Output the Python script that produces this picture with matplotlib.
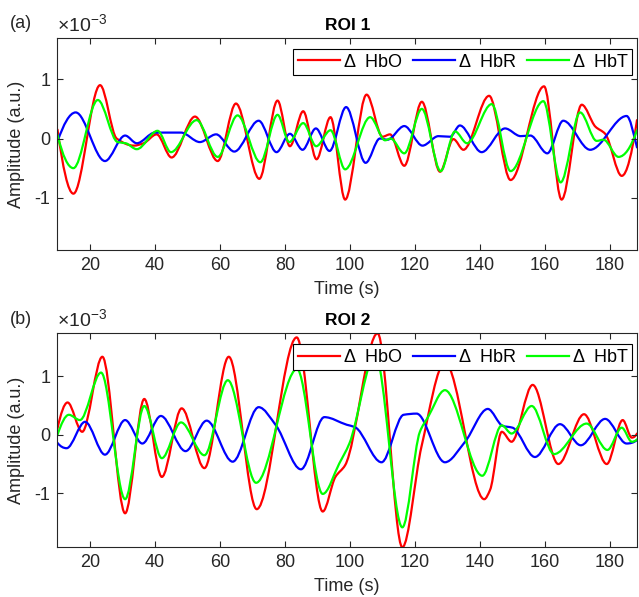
import numpy as np
import matplotlib
matplotlib.use("Agg")
import matplotlib.pyplot as plt
from matplotlib.path import Path
from matplotlib.patches import PathPatch
from matplotlib.lines import Line2D

plt.rcParams['font.family'] = ['Liberation Sans', 'DejaVu Sans']
plt.rcParams['mathtext.fontset'] = 'custom'
plt.rcParams['mathtext.rm'] = 'Liberation Sans'
plt.rcParams['axes.unicode_minus'] = False

SCALE = 1e-3  # all amplitudes below are in units of 1e-3

# ---- ROI 1 (turning points) ----
roi1_hbo_t = [10.0, 14.9, 23.1, 28.2, 33.5, 36.5, 40.5, 45.1, 52.3, 59.3, 64.9, 72.1,
              77.7, 81.5, 85.6, 89.7, 94.0, 98.5, 105.1, 110.0, 112.3, 116.7, 122.1,
              127.7, 131.8, 134.9, 142.8, 149.4, 159.7, 165.1, 171.3, 175.5, 178.5,
              183.6, 188.3]
roi1_hbo_v = [0.15, -0.93, 0.90, 0.0, -0.12, -0.08, 0.07, -0.32, 0.37, -0.38, 0.59, -0.68,
              0.64, -0.13, 0.46, -0.35, 0.36, -1.03, 0.74, 0.03, 0.07, -0.46, 0.62,
              -0.56, -0.01, -0.19, 0.72, -0.70, 0.88, -1.03, 0.57, 0.20, 0.08,
              -0.63, 0.31]

roi1_hbr_t = [10.0, 15.6, 24.6, 30.8, 34.4, 40.0, 48.0, 53.8, 58.8, 64.4, 71.9, 77.4,
              81.5, 85.4, 89.5, 93.7, 98.8, 104.8, 109.2, 111.5, 116.7, 122.3, 127.2,
              130.8, 133.8, 140.5, 147.7, 152.5, 155.5, 160.7, 165.6, 173.9, 185.1,
              188.3]
roi1_hbr_v = [-0.05, 0.44, -0.38, 0.05, -0.08, 0.10, 0.10, -0.06, 0.07, -0.22, 0.30, -0.23,
              0.08, -0.19, 0.17, -0.21, 0.53, -0.41, 0.0, -0.02, 0.21, -0.12, 0.04,
              0.03, 0.22, -0.23, 0.17, 0.04, 0.05, -0.25, 0.30, -0.19, 0.38,
              -0.15]

roi1_hbt_t = [10.0, 14.9, 22.4, 28.5, 31.0, 34.4, 40.8, 44.9, 52.8, 59.3, 65.4, 72.4,
              77.7, 81.3, 85.6, 89.6, 94.0, 98.5, 106.2, 110.8, 112.5, 116.7, 122.1,
              127.9, 132.3, 136.0, 143.6, 149.4, 159.5, 164.8, 170.8, 175.9, 178.0,
              182.6, 188.3]
roi1_hbt_v = [0.06, -0.50, 0.65, -0.06, -0.08, -0.18, 0.13, -0.23, 0.31, -0.31, 0.39, -0.40,
              0.40, -0.06, 0.26, -0.13, 0.14, -0.52, 0.36, -0.03, 0.0, -0.25, 0.50,
              -0.55, 0.12, -0.08, 0.58, -0.55, 0.63, -0.74, 0.44, -0.04, -0.02,
              -0.31, 0.14]

# ---- ROI 2 ----
roi2_hbo_t = [10.0, 13.1, 17.6, 23.8, 30.8, 36.7, 42.1, 48.2, 55.2, 62.7, 71.3, 83.6,
              91.6, 95.5, 98.5, 108.5, 116.1, 122.0, 129.2, 141.3, 143.1, 146.7, 149.7,
              156.2, 164.1, 172.0, 179.0, 183.9, 186.7, 188.3]
roi2_hbo_v = [0.11, 0.55, 0.05, 1.33, -1.34, 0.61, -0.72, 0.45, -0.57, 1.33, -1.27, 1.66,
              -1.31, -0.72, -0.52, 1.73, -1.92, -0.20, 1.23, -1.10, -0.94, 0.05, -0.12,
              0.85, -0.50, 0.35, -0.50, 0.25, -0.05, 0.02]

roi2_hbr_t = [10.0, 12.8, 18.5, 24.6, 30.8, 36.1, 41.8, 49.4, 55.9, 63.9, 71.9, 77.2,
              84.9, 92.1, 99.0, 101.5, 109.7, 116.5, 120.5, 129.2, 135.4, 142.4, 147.0,
              150.0, 156.9, 164.6, 171.0, 178.5, 185.1, 188.3]
roi2_hbr_v = [-0.14, -0.23, 0.22, -0.34, 0.25, -0.15, 0.32, -0.28, 0.24, -0.46, 0.47, 0.16,
              -0.59, 0.30, 0.17, 0.13, -0.47, 0.34, 0.36, -0.47, -0.12, 0.44, 0.15,
              0.12, -0.38, 0.18, -0.18, 0.27, -0.15, -0.09]

roi2_hbt_t = [10.0, 13.5, 16.9, 23.4, 30.8, 36.7, 42.1, 48.0, 55.2, 62.4, 71.1, 83.7,
              91.6, 96.7, 99.8, 107.8, 116.1, 121.5, 124.0, 129.2, 140.7, 146.7, 149.7,
              155.9, 162.8, 172.8, 179.2, 183.6, 186.7, 188.3]
roi2_hbt_v = [0.0, 0.34, 0.25, 1.06, -1.10, 0.49, -0.40, 0.21, -0.35, 0.93, -0.82, 1.12,
              -1.01, -0.49, -0.15, 1.35, -1.58, 0.05, 0.30, 0.76, -0.70, 0.16, 0.02,
              0.49, -0.33, 0.19, -0.26, 0.12, -0.12, -0.08]

labels = ['\u0394  HbO', '\u0394  HbR', '\u0394  HbT']
colors = ['#ff0000', '#0000ff', '#00ff00']
xticks = [20, 40, 60, 80, 100, 120, 140, 160, 180]
yticks = [-1, 0, 1]
ytick_labels = ['-1', '0', '1']


def end_slope(h0, h1, d0, d1):
    m = ((2 * h0 + h1) * d0 - h0 * d1) / (h0 + h1)
    if np.sign(m) != np.sign(d0):
        return 0.0
    if np.sign(d0) != np.sign(d1) and abs(m) > 3 * abs(d0):
        return 3 * d0
    return m


def smooth_path(t, v):
    # monotone cubic (Bezier) through the read points
    x = np.asarray(t, float)
    y = np.asarray(v, float) * SCALE
    h = np.diff(x)
    d = np.diff(y) / h
    m = np.zeros_like(y)
    for k in range(1, len(y) - 1):
        if d[k - 1] * d[k] > 0:
            w1 = 2 * h[k] + h[k - 1]
            w2 = h[k] + 2 * h[k - 1]
            m[k] = (w1 + w2) / (w1 / d[k - 1] + w2 / d[k])
    m[0] = end_slope(h[0], h[1], d[0], d[1])
    m[-1] = end_slope(h[-1], h[-2], d[-1], d[-2])
    verts = [(x[0], y[0])]
    codes = [Path.MOVETO]
    for i in range(len(h)):
        verts += [(x[i] + h[i] / 3, y[i] + m[i] * h[i] / 3),
                  (x[i + 1] - h[i] / 3, y[i + 1] - m[i + 1] * h[i] / 3),
                  (x[i + 1], y[i + 1])]
        codes += [Path.CURVE4] * 3
    return Path(verts, codes)


fig = plt.figure(figsize=(6.39, 5.97), dpi=100)
W, H = 639, 597
ax1 = fig.add_axes([57.5 / W, 1 - 250 / H, 579.5 / W, 211.7 / H])
ax2 = fig.add_axes([57.5 / W, 1 - 546.7 / H, 579.5 / W, 213.4 / H])

panels = [
    (ax1, 'ROI 1', '(a)', [(roi1_hbo_t, roi1_hbo_v), (roi1_hbr_t, roi1_hbr_v), (roi1_hbt_t, roi1_hbt_v)],
     (-1.88, 1.69)),
    (ax2, 'ROI 2', '(b)', [(roi2_hbo_t, roi2_hbo_v), (roi2_hbr_t, roi2_hbr_v), (roi2_hbt_t, roi2_hbt_v)],
     (-1.91, 1.73)),
]

axc = '#262626'
fs = 13
for ax, title, tag, series, ylim in panels:
    for (t, v), c in zip(series, colors):
        ax.add_patch(PathPatch(smooth_path(t, v), fill=False, edgecolor=c, lw=1.6,
                               joinstyle='round', capstyle='round'))
    ax.set_xlim(10, 188.3)
    ax.set_ylim(ylim[0] * SCALE, ylim[1] * SCALE)
    ax.set_xticks(xticks)
    ax.set_yticks([y * SCALE for y in yticks], labels=ytick_labels)
    ax.tick_params(direction='in', length=4, width=0.8, top=True, right=True,
                   labelsize=fs, colors=axc, pad=5)
    for sp in ax.spines.values():
        sp.set_color(axc)
        sp.set_linewidth(0.8)
    ax.set_xlabel('Time (s)', fontsize=fs, color=axc, labelpad=5)
    ax.set_ylabel('Amplitude (a.u.)', fontsize=fs, color=axc, labelpad=7)
    ax.set_title(title, fontsize=12.5, fontweight='bold', pad=6)
    ax.text(0, 1 + 3 / 212, r'$\mathregular{\times 10^{-3}}$', transform=ax.transAxes,
            ha='left', va='bottom', fontsize=14, color=axc)
    handles = [Line2D([], [], color=c, lw=1.6) for c in colors]
    leg = ax.legend(handles, labels, ncol=3, loc='upper right',
                    bbox_to_anchor=(1 - 5 / 579.5, 1 - 11 / 212), borderaxespad=0,
                    fontsize=fs, frameon=True, fancybox=False, framealpha=1,
                    edgecolor='black', borderpad=0.25, handlelength=2.35,
                    handletextpad=0.2, columnspacing=0.6)
    leg.get_frame().set_linewidth(0.8)

fig.text(10 / W, 1 - 28.5 / H, '(a)', fontsize=fs, va='baseline', color=axc)
fig.text(10 / W, 1 - 323.5 / H, '(b)', fontsize=fs, va='baseline', color=axc)

fig.savefig('out.png', dpi=100)
